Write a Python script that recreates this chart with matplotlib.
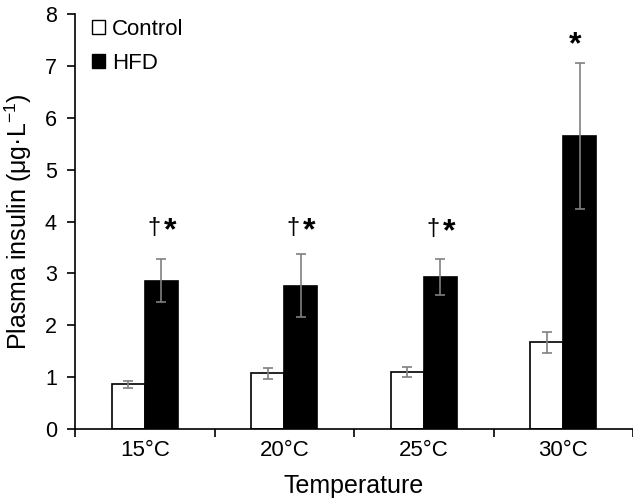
import matplotlib
matplotlib.use("Agg")
import matplotlib.pyplot as plt
import numpy as np
from matplotlib.patches import Patch

plt.rcParams["font.family"] = ["Liberation Sans", "DejaVu Sans"]
plt.rcParams["mathtext.fontset"] = "custom"
plt.rcParams["mathtext.rm"] = "Liberation Sans"
plt.rcParams["mathtext.it"] = "Liberation Sans"

temps = ["15°C", "20°C", "25°C", "30°C"]
control = [0.86, 1.07, 1.10, 1.67]
control_err = [0.07, 0.11, 0.09, 0.20]
hfd = [2.86, 2.76, 2.93, 5.65]
hfd_err = [0.41, 0.61, 0.34, 1.41]
marks = ["†*", "†*", "†*", "*"]
mark_y = [3.82, 3.82, 3.80, 7.40]

fig = plt.figure(figsize=(6.33, 5.0), dpi=100)
ax = fig.add_axes([0.1185, 0.142, 0.8815, 0.83])

x = np.arange(len(temps))
w = 0.237
err_kw = dict(ecolor="#808080", elinewidth=1.2, capsize=3.5, capthick=1.2)
ax.bar(x - w / 2, control, w, yerr=control_err, color="white", edgecolor="black",
       linewidth=1.2, error_kw=err_kw, zorder=2)
ax.bar(x + w / 2, hfd, w, yerr=hfd_err, color="black", edgecolor="black",
       linewidth=1.2, error_kw=err_kw, zorder=2)

# significance marks above the HFD bars
for i, m in enumerate(marks):
    cx = x[i] + w / 2
    if m.startswith("†"):
        ax.text(cx - 0.055, mark_y[i] + 0.05, "†", ha="center", va="center", fontsize=17)
        ax.text(cx + 0.063, mark_y[i], "*", ha="center", va="center", fontsize=23,
                fontweight="bold")
    else:
        ax.text(cx - 0.03, mark_y[i], "*", ha="center", va="center", fontsize=23,
                fontweight="bold")

ax.set_xlim(-0.5, 3.5)
ax.set_ylim(0, 8)
ax.set_yticks(range(0, 9))
ax.set_xticks(np.arange(-0.5, 3.6, 1.0))
ax.set_xticklabels([])
ax.set_xticks(x, minor=True)
ax.set_xticklabels(temps, minor=True)
ax.tick_params(axis="x", which="minor", length=0, pad=8, labelsize=16)
ax.tick_params(axis="x", which="major", length=6, width=1.2, direction="out")
ax.tick_params(axis="y", length=6, width=1.2, direction="out", labelsize=15.5, pad=7)

for s in ["top", "right"]:
    ax.spines[s].set_visible(False)
for s in ["left", "bottom"]:
    ax.spines[s].set_linewidth(1.2)

ax.set_xlabel("Temperature", fontsize=18, labelpad=9)
ax.set_ylabel(r"Plasma insulin (μg·L$^{\mathregular{-1}}$)", fontsize=18, labelpad=8)

handles = [Patch(facecolor="white", edgecolor="black", linewidth=1.0, label="Control"),
           Patch(facecolor="black", edgecolor="black", linewidth=1.0, label="HFD")]
ax.legend(handles=handles, loc="upper left", bbox_to_anchor=(0.01, 1.015), frameon=False,
          fontsize=16, handlelength=0.6, handleheight=0.6, handletextpad=0.3,
          labelspacing=0.6, borderaxespad=0.1)

fig.savefig("out.png", dpi=100)
